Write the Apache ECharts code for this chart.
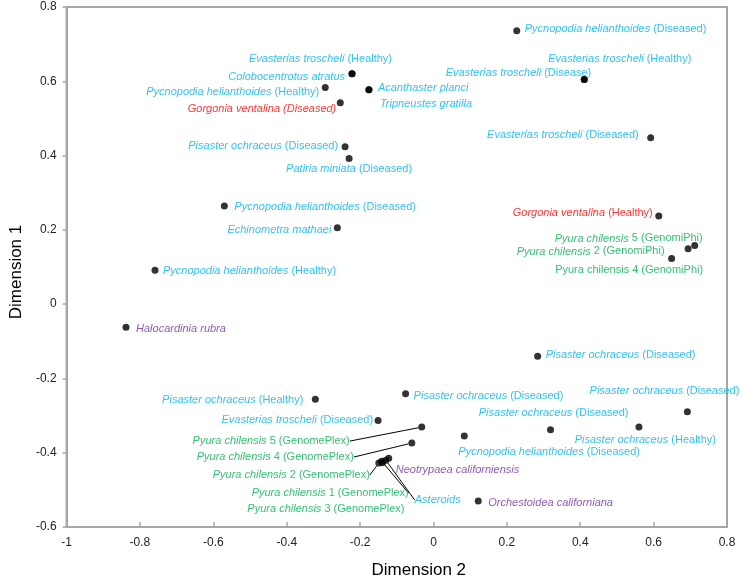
<!DOCTYPE html>
<html>
<head>
<meta charset="utf-8">
<script src="https://cdn.jsdelivr.net/npm/echarts@6/dist/echarts.min.js"></script>
<style>
html,body{margin:0;padding:0;background:#fff;}
#chart{width:742px;height:584px;}
</style>
</head>
<body>
<div id="chart"></div>
<script>
//数据 (italic name, plain suffix, colour group, Dimension 2, Dimension 1)
var species = [
	'Pycnopodia helianthoides','Evasterias troscheli','Evasterias troscheli','Evasterias troscheli',
	'Colobocentrotus atratus','Evasterias troscheli','Pycnopodia helianthoides','Acanthaster planci',
	'Tripneustes gratilla','Gorgonia ventalina','Pisaster ochraceus','Patiria miniata',
	'Pycnopodia helianthoides','Echinometra mathaei','Pycnopodia helianthoides','Halocardinia rubra',
	'Gorgonia ventalina','Pyura chilensis','Pyura chilensis','Pyura chilensis',
	'Pisaster ochraceus','Pisaster ochraceus','Pisaster ochraceus','Pisaster ochraceus',
	'Pycnopodia helianthoides','Pisaster ochraceus','Orchestoidea californiana','Pisaster ochraceus',
	'Evasterias troscheli','Pyura chilensis','Pyura chilensis','Pyura chilensis',
	'Pyura chilensis','Pyura chilensis','Asteroids','Neotrypaea californiensis'
];
var suffix = [
	'(Diseased)','(Healthy)','(Disease)','(Diseased)',
	'','(Healthy)','(Healthy)','',
	'','(Diseased)','(Diseased)','(Diseased)',
	'(Diseased)','','(Healthy)','',
	'(Healthy)','5 (GenomiPhi)','2 (GenomiPhi)','4 (GenomiPhi)',
	'(Diseased)','(Diseased)','(Healthy)','(Diseased)',
	'(Diseased)','(Diseased)','','(Healthy)',
	'(Diseased)','5 (GenomePlex)','4 (GenomePlex)','2 (GenomePlex)',
	'1 (GenomePlex)','3 (GenomePlex)','',''
];
var group = [
	'star','star','star','star',
	'star','star','star','star',
	'star','coral','star','star',
	'star','star','star','other',
	'coral','tunicate','tunicate','tunicate',
	'star','star','star','star',
	'star','star','other','star',
	'star','tunicate','tunicate','tunicate',
	'tunicate','tunicate','star','other'
];
var dim2 = [
	0.227, 0.411, 0.411, 0.592,
	-0.222, -0.222, -0.295, -0.176,
	-0.176, -0.254, -0.241, -0.230,
	-0.570, -0.262, -0.759, -0.838,
	0.614, 0.712, 0.649, 0.694,
	0.284, 0.692, 0.560, 0.319,
	0.084, -0.076, 0.122, -0.322,
	-0.151, -0.032, -0.059, -0.149,
	-0.141, -0.139, -0.130, -0.122
];
var dim1 = [
	0.736, 0.605, 0.605, 0.448,
	0.620, 0.620, 0.583, 0.577,
	0.577, 0.542, 0.424, 0.392,
	0.264, 0.206, 0.091, -0.062,
	0.237, 0.158, 0.123, 0.149,
	-0.140, -0.290, -0.331, -0.338,
	-0.355, -0.241, -0.530, -0.256,
	-0.313, -0.331, -0.374, -0.428,
	-0.423, -0.427, -0.420, -0.415
];

//标签位置 [dx, dy, align] relative to the dot
var labelPos = [
	[8,-2,'left'],[-36,-20,'left'],[7,-6,'right'],[-12,-3,'right'],
	[-7,3,'right'],[40,-15,'right'],[-6,4,'right'],[9,-2,'left'],
	[11,14,'left'],[-4,6,'right'],[-7,-1,'right'],[0,10,'center'],
	[10,1,'left'],[-6,2,'right'],[8,1,'left'],[10,2,'left'],
	[-6,-3,'right'],[8,-7,'right'],[-7,-7,'right'],[15,21,'right'],
	[8,-1,'left'],[52,-21,'right'],[77,13,'right'],[78,-17,'right'],
	[-6,16,'left'],[8,2,'left'],[10,2,'left'],[-12,1,'right'],
	[-5,0,'right'],[-72,14,'right'],[-58,14,'right'],[-9,12,'right'],
	[27,32,'right'],[22,46,'right'],[29,40,'left'],[7,12,'left']
];
var leaderLines = [29,30,31,32,34];
var allItalic = [9];
var allUpright = [19];

var colors = {star:'#00B0F0', coral:'#FF0000', tunicate:'#00B050', other:'#7030A0'};
var font = "'Liberation Sans',Arial,sans-serif";
var labelSize = 11;

var rich = {};
for (var k in colors) {
	rich['i_'+k] = {fontStyle:'italic', color:colors[k], fontFamily:font, fontSize:labelSize};
	rich['n_'+k] = {fontStyle:'normal', color:colors[k], fontFamily:font, fontSize:labelSize};
}

function labelText(i){
	var g = group[i];
	if (allUpright.indexOf(i) >= 0) {
		return '{n_'+g+'|'+species[i]+' '+suffix[i]+'}';
	}
	if (allItalic.indexOf(i) >= 0 || suffix[i] == '') {
		return '{i_'+g+'|'+species[i]+(suffix[i] ? ' '+suffix[i] : '')+'}';
	}
	return '{i_'+g+'|'+species[i]+'}{n_'+g+'| '+suffix[i]+'}';
}

var points = [];
for (var i = 0; i < species.length; i++) {
	points.push({
		value: [dim2[i], dim1[i]],
		label: {formatter: labelText(i)},
		labelLine: {show: leaderLines.indexOf(i) >= 0}
	});
}

var axisColor = '#a6a6a6';
var myChart = echarts.init(document.getElementById('chart'));
var option = {
	animation: false,
	backgroundColor: '#fff',
	grid: {left: 61, right: 15, top: 7, bottom: 56, show: true, borderColor: axisColor, borderWidth: 2},
	xAxis: {
		type: 'value', min: -1, max: 0.8, interval: 0.2,
		name: 'Dimension 2', nameLocation: 'middle', nameGap: 35,
		nameTextStyle: {fontFamily: font, fontSize: 17, color: '#000', padding: [0,0,0,44]},
		axisLine: {show: true, onZero: false, lineStyle: {color: axisColor, width: 2}},
		axisTick: {show: true, inside: true, length: 5, lineStyle: {color: axisColor, width: 1.5}},
		axisLabel: {fontFamily: font, fontSize: 12, color: '#222', margin: 10,
			formatter: function(v){ return String(+v.toFixed(1)); }},
		splitLine: {show: false}
	},
	yAxis: {
		type: 'value', min: -0.6, max: 0.8, interval: 0.2,
		name: 'Dimension 1', nameLocation: 'middle', nameGap: 40,
		nameTextStyle: {fontFamily: font, fontSize: 17, color: '#000', padding: [0,10,0,0]},
		axisLine: {show: true, onZero: false, lineStyle: {color: axisColor, width: 2}},
		axisTick: {show: true, length: 4, lineStyle: {color: axisColor, width: 1.5}},
		axisLabel: {fontFamily: font, fontSize: 12, color: '#222', margin: 10,
			formatter: function(v){ return String(+v.toFixed(1)); }},
		splitLine: {show: false}
	},
	series: [{
		type: 'scatter',
		symbol: 'circle',
		symbolSize: 7,
		itemStyle: {color: '#000'},
		label: {show: true, rich: rich, fontFamily: font, fontSize: labelSize},
		labelLine: {show: false, lineStyle: {color: '#000', width: 1}},
		labelLayout: function(p){
			var o = labelPos[p.dataIndex];
			return {
				x: p.rect.x + p.rect.width/2 + o[0],
				y: p.rect.y + p.rect.height/2 + o[1],
				align: o[2],
				verticalAlign: 'middle'
			};
		},
		emphasis: {disabled: true},
		data: points
	}]
};
myChart.setOption(option);
</script>
</body>
</html>
